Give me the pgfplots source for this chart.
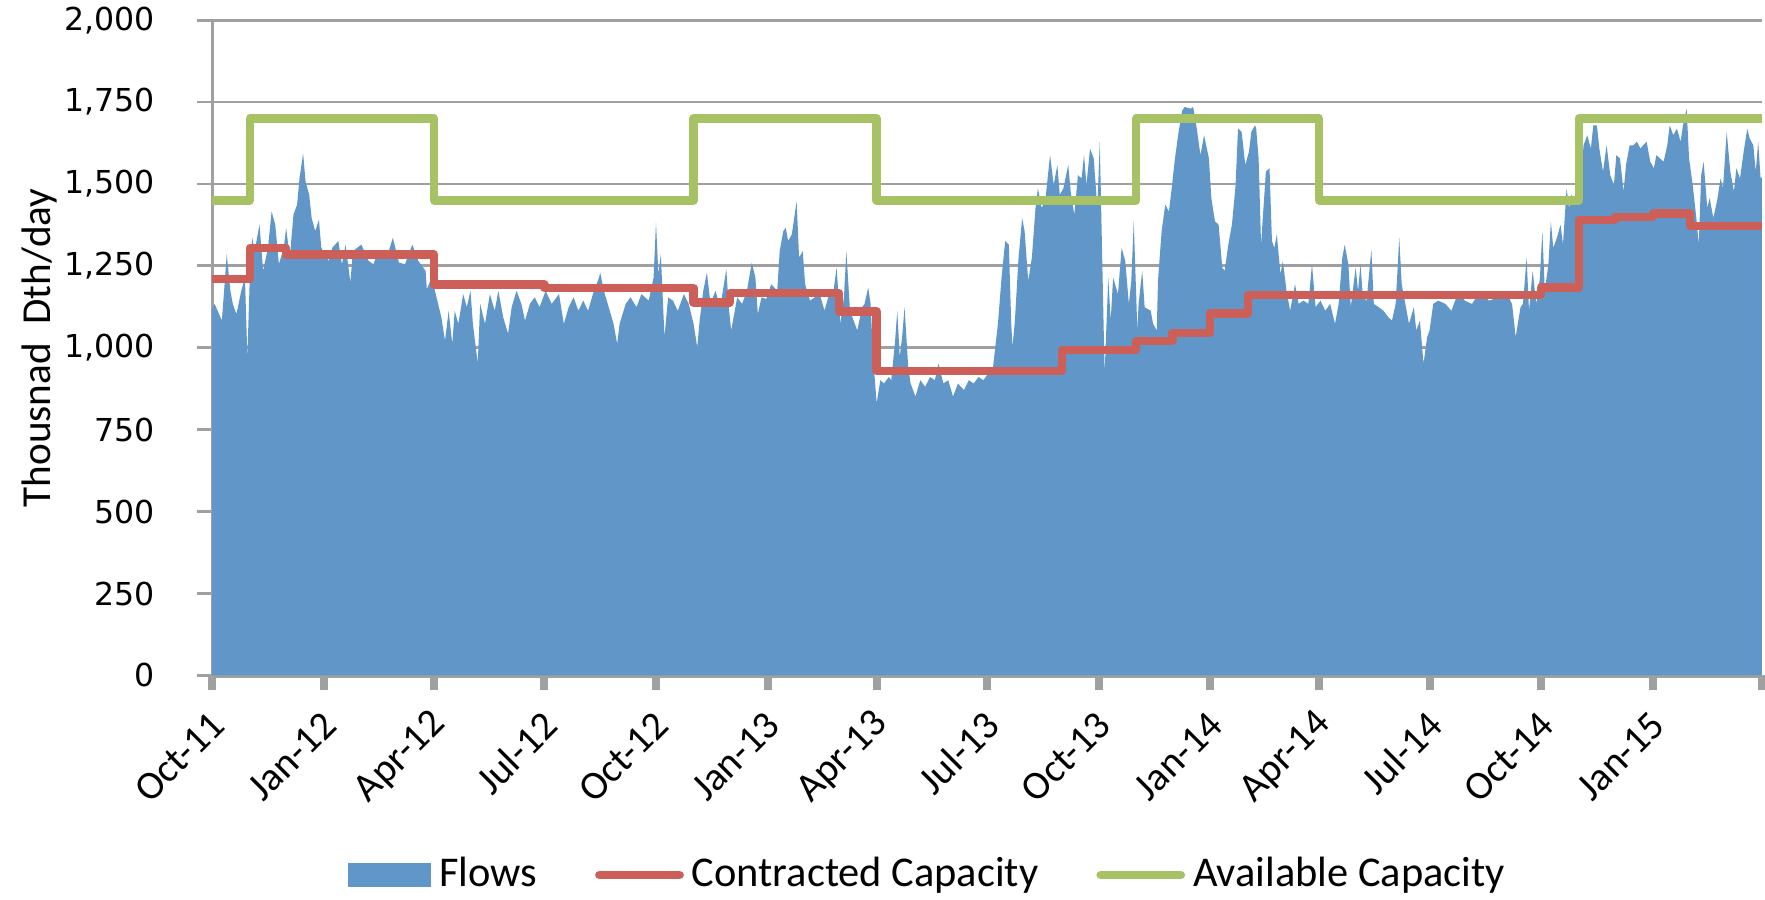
\documentclass[border=0pt]{standalone}
\usepackage{fontspec}
\setmainfont{Carlito}
\newfontfamily\dejavu{DejaVu Sans}
\usepackage{pgfplots}
\pgfplotsset{compat=1.18}
\definecolor{flowblue}{RGB}{97,150,201}
\definecolor{capred}{RGB}{204,96,89}
\definecolor{capgreen}{RGB}{166,194,100}
\definecolor{gridgray}{RGB}{160,160,160}
\begin{document}
\begin{tikzpicture}
\useasboundingbox (0,0) rectangle (441.25pt,224.75pt);
\begin{axis}[
  at={(53.05pt,55.9pt)}, anchor=south west,
  scale only axis, width=387.4pt, height=163.8pt,
  xmin=0, xmax=1278, ymin=0, ymax=2000,
  axis x line=bottom, axis y line=left,
  x axis line style={-, draw=gridgray, line width=1.2pt},
  y axis line style={-, draw=gridgray, line width=0.7pt},
  ytick={0,250,...,2000},
  ymajorgrids, major grid style={draw=gridgray, line width=0.7pt},
  xtick={0,92,183,274,366,458,548,639,731,823,913,1004,1096,1188,1278},
  xticklabels={Oct-11,Jan-12,Apr-12,Jul-12,Oct-12,Jan-13,Apr-13,Jul-13,Oct-13,Jan-14,Apr-14,Jul-14,Oct-14,Jan-15,{}},
  tick align=outside, major tick length=3.75pt,
  x tick style={draw=gridgray, line width=2pt},
  y tick style={draw=gridgray, line width=0.7pt},
  scaled y ticks=false,
  /pgf/number format/assume math mode=true,
  yticklabel style={font=\dejavu\fontsize{7.9}{9}\selectfont, /pgf/number format/1000 sep={,}, xshift=-7pt},
  xticklabel style={rotate=45, anchor=east, font=\fontsize{10}{12}\selectfont, yshift=-6pt, xshift=-0.5pt},
  ylabel={Thousnad\ \ Dth/day},
  ylabel style={at={(axis description cs:-0.1112,0.5)}, anchor=center, font=\fontsize{10.3}{12}\selectfont},
  legend style={at={(axis description cs:0.4635,-0.3046)}, anchor=center, draw=none, fill=none,
    legend columns=3, font=\fontsize{10.6}{12}\selectfont,
    /tikz/every even column/.append style={column sep=12.5pt}},
  legend cell align=left,
]
\addplot[fill=flowblue, draw=none,
  legend image code/.code={\fill[fill=flowblue] (0pt,-3.1pt) rectangle (20.75pt,3.1pt);}]
coordinates {
(0,1120)(2,1134)(8,1083)(12,1285)(15,1174)(17,1134)(20,1103)(24,1174)(27,1214)(29,972)
(31,1214)(33,1336)(35,1295)(39,1376)(42,1235)(46,1305)(49,1416)(52,1376)(55,1255)(59,1305)
(61,1366)(64,1275)(67,1406)(70,1437)(72,1517)(75,1593)(77,1507)(80,1467)(82,1396)(85,1356)
(88,1391)(90,1305)(96,1265)(99,1305)(104,1326)(107,1255)(110,1315)(114,1199)(116,1295)(123,1315)
(129,1265)(133,1255)(137,1295)(144,1275)(149,1336)(154,1260)(159,1255)(165,1315)(170,1265)(176,1235)
(177,1179)(181,1214)(185,1154)(189,1093)(192,1022)(195,1113)(198,1012)(200,1113)(203,1073)(207,1164)
(210,1124)(213,1174)(215,1073)(219,952)(221,1134)(225,1073)(229,1164)(233,1113)(236,1174)(240,1093)
(244,1043)(247,1124)(251,1174)(255,1134)(258,1083)(262,1134)(266,1154)(270,1124)(275,1174)(280,1134)
(286,1164)(290,1073)(294,1124)(298,1154)(302,1113)(306,1144)(310,1113)(314,1164)(319,1214)(320,1230)
(323,1174)(327,1124)(331,1073)(334,1012)(336,1073)(341,1134)(345,1154)(350,1124)(354,1164)(360,1144)
(364,1214)(366,1381)(368,1225)(370,1285)(373,1033)(376,1154)(380,1144)(384,1113)(389,1164)(393,1134)
(397,1073)(400,1002)(402,1083)(405,1174)(408,1230)(411,1134)(415,1174)(419,1124)(424,1240)(426,1124)
(428,1053)(433,1154)(437,1134)(441,1174)(445,1260)(448,1214)(450,1103)(453,1154)(457,1149)(461,1194)
(466,1174)(468,1295)(471,1356)(473,1366)(475,1326)(478,1346)(480,1396)(482,1447)(484,1275)(487,1295)
(489,1194)(493,1144)(497,1154)(501,1164)(505,1113)(508,1154)(512,1164)(515,1245)(518,1073)(521,1154)
(523,1295)(526,1113)(529,1083)(532,1053)(536,1124)(538,1134)(541,1184)(543,1134)(545,972)(548,831)
(551,901)(554,891)(558,911)(560,901)(563,1012)(565,1113)(567,972)(569,1033)(571,1124)(574,942)
(576,891)(580,851)(584,901)(588,881)(592,911)(596,901)(599,952)(603,891)(607,901)(611,851)
(615,891)(620,871)(624,901)(628,891)(632,911)(636,901)(640,922)(644,942)(648,1073)(651,1214)
(654,1326)(657,1315)(659,1073)(660,1002)(662,1083)(665,1275)(668,1396)(670,1356)(673,1204)(676,1275)
(679,1427)(681,1487)(684,1427)(687,1447)(691,1588)(694,1497)(697,1558)(699,1467)(702,1487)(706,1558)
(708,1477)(711,1406)(714,1527)(717,1517)(719,1588)(721,1497)(724,1608)(727,1578)(730,1427)(732,1629)
(734,1275)(736,922)(739,1214)(741,1083)(743,1214)(747,1164)(750,1305)(753,1265)(756,1134)(758,1204)
(760,1386)(763,1053)(764,1134)(767,1235)(769,1124)(774,1113)(776,1073)(779,1053)(780,1204)(783,1356)
(786,1437)(789,1416)(791,1477)(794,1578)(797,1659)(800,1724)(802,1735)(807,1730)(809,1735)(812,1669)
(815,1588)(818,1649)(822,1578)(824,1457)(827,1386)(830,1376)(833,1245)(835,1235)(838,1315)(841,1376)
(844,1497)(846,1669)(849,1659)(852,1558)(855,1598)(857,1659)(860,1679)(861,1669)(863,1578)(865,1315)
(867,1427)(869,1538)(872,1548)(874,1326)(876,1305)(878,1346)(881,1225)(883,1265)(886,1174)(889,1113)
(893,1194)(896,1134)(900,1144)(904,1134)(907,1255)(910,1124)(914,1144)(918,1113)(922,1134)(926,1073)
(929,1134)(932,1275)(934,1315)(937,1255)(939,1124)(943,1245)(945,1174)(947,1255)(949,1154)(952,1144)
(956,1300)(958,1134)(962,1124)(966,1113)(970,1093)(973,1083)(976,1134)(979,1336)(981,1194)(984,1134)
(987,1073)(991,1124)(993,1053)(996,1083)(999,952)(1002,1033)(1004,1053)(1007,1134)(1011,1144)(1017,1134)
(1022,1113)(1028,1174)(1033,1144)(1039,1134)(1046,1174)(1053,1144)(1061,1154)(1068,1164)(1072,1134)(1075,1033)
(1079,1124)(1081,1134)(1084,1275)(1086,1113)(1089,1235)(1092,1134)(1095,1214)(1097,1356)(1099,1174)(1102,1255)
(1104,1386)(1106,1305)(1109,1336)(1112,1376)(1114,1315)(1117,1487)(1119,1427)(1121,1467)(1124,1447)(1128,1477)
(1131,1618)(1134,1649)(1137,1608)(1139,1679)(1142,1679)(1144,1608)(1147,1538)(1150,1618)(1153,1527)(1156,1497)
(1158,1588)(1161,1578)(1164,1477)(1166,1558)(1169,1618)(1172,1618)(1175,1629)(1178,1608)(1180,1618)(1183,1629)
(1186,1568)(1189,1548)(1191,1588)(1194,1578)(1197,1568)(1200,1618)(1202,1679)(1205,1649)(1208,1669)(1211,1629)
(1213,1679)(1216,1730)(1218,1578)(1221,1497)(1224,1396)(1226,1315)(1228,1527)(1230,1568)(1233,1427)(1235,1457)
(1238,1396)(1241,1447)(1244,1517)(1246,1487)(1249,1659)(1252,1538)(1255,1477)(1257,1548)(1260,1517)(1263,1598)
(1266,1669)(1268,1639)(1271,1618)(1273,1538)(1275,1629)(1277,1517)(1278,1520)
} \closedcycle;
\addlegendentry{Flows}
\addplot[const plot, draw=capred, line width=2.1pt, line join=round,
  legend image code/.code={\draw[draw=capred, line width=2.2pt, line cap=round] (0pt,0pt) -- (20pt,0pt);}]
coordinates {
(0,1210)(31,1305)(61,1285)(183,1193)(274,1183)(397,1138)(427,1167)(517,1111)(548,930)
(701,993)(762,1020)(792,1046)(823,1105)(854,1162)(1096,1184)(1127,1390)(1157,1400)(1188,1410)(1219,1372)(1278,1372)
};
\addlegendentry{Contracted Capacity}
\addplot[const plot, draw=capgreen, line width=2.1pt, line join=round,
  legend image code/.code={\draw[draw=capgreen, line width=2.2pt, line cap=round] (0pt,0pt) -- (20pt,0pt);}]
coordinates {
(0,1450)(31,1700)(183,1450)(397,1700)(548,1450)(762,1700)(913,1450)(1127,1700)(1278,1700)
};
\addlegendentry{Available Capacity}
\end{axis}
\end{tikzpicture}
\end{document}
